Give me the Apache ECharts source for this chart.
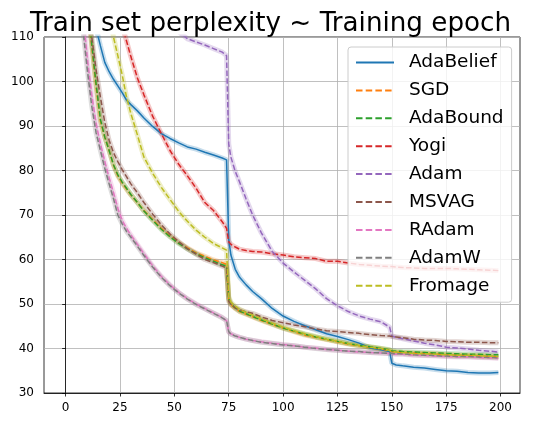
<!DOCTYPE html>
<html><head><meta charset="utf-8">
<script src="https://cdn.jsdelivr.net/npm/echarts@6/dist/echarts.min.js"></script>
<style>html,body{margin:0;padding:0;background:#fff}#c{width:541px;height:425px}</style>
</head><body><div id="c"></div>
<script>
const epochs = [0,5,8,10,12,14,16,18,20,22,24,26,28,30,33,36,40,44,48,52,56,60,64,68,72,74,75,76,78,80,83,86,90,95,100,105,110,115,120,125,130,135,140,145,149,150,152,155,160,165,170,175,180,185,190,195,199];

const adaBelief = [160,140,130,123,117,112,108,104.3,102.2,100.5,99,97.5,95.8,94.8,93.4,91.8,89.9,88.3,87.2,86.2,85.3,84.8,84.1,83.5,82.8,82.4,64.5,61,57.8,56,54.3,52.8,51.2,49,47.3,46.1,45.1,44.2,43.3,42.7,42,41.2,40.1,39.7,39.3,36.7,36.3,36.1,35.8,35.6,35.3,35.0,34.9,34.6,34.5,34.5,34.6];
const sgd = [180,145,128,117,108,98.7,91,87.5,84.5,81.2,78.8,77.2,75.8,74.5,72.8,71,69,67,65.3,63.8,62.6,61.5,60.7,59.9,59.3,58.9,51,49.8,49,48.3,47.7,47.1,46.3,45.4,44.6,43.8,43,42.5,42,41.5,41,40.6,40.3,39.9,39.5,39.3,39.2,39.1,39,38.9,38.8,38.6,38.5,38.4,38.3,38.2,38.1];
const adaBound = [180,146,129,118,108.5,99.5,91.5,87.5,84.5,81.3,79,77.4,76,74.6,72.8,70.9,68.8,66.8,65.1,63.6,62.4,61.3,60.4,59.6,58.8,58.5,51.2,50,49.1,48.4,47.8,47.2,46.4,45.5,44.6,43.9,43.2,42.6,42.1,41.6,41.1,40.7,40.4,40.0,39.7,39.5,39.4,39.3,39.2,39.1,39,38.9,38.8,38.7,38.7,38.6,38.6];
const yogi = [170,158,150,145,140,136,132,128,124,120,116,112.5,109.1,105.6,100.8,97,92.2,88.3,84.5,81.4,78.8,76,72.8,71,68.5,67,64,63.4,62.8,62.3,62,61.8,61.7,61.3,61,60.6,60.4,60.2,59.6,59.6,59.2,58.9,58.7,58.5,58.4,58.4,58.3,58.2,58.1,58,58,58,57.9,57.8,57.7,57.6,57.5];
const adam = [200,190,180,175,170,165,160,156,152,148,145,142,139,136,132,128,124,120,116,111.2,109.6,108.9,108.2,107.4,106.6,105.8,86,83,79.8,77.4,73.6,70,66,61.8,59.2,57.2,55.3,53.4,51.2,49.6,48.3,47.3,46.6,46,44.8,42.8,42.5,42.2,41.7,41.2,40.8,40.3,40.1,39.9,39.6,39.4,39.2];
const msvag = [170,140,126,118,110,102.6,96.5,90.8,86.8,84,82,80.2,78.6,77,75,72.8,70.2,67.8,65.7,64,62.4,61.2,60,59.3,58.5,58.1,50.6,50,49.2,48.7,48.2,47.9,47.1,46.3,45.8,45.3,44.9,44.4,44,43.8,43.6,43.4,43.1,42.9,42.8,42.7,42.6,42.4,42.1,41.9,41.8,41.6,41.5,41.4,41.4,41.3,41.3];
const radam = [165,130,115,105,97,90.5,86,82,78.3,75,71.5,68.8,67,65.5,63.4,61.3,58.6,56.2,54.3,52.6,51.2,50,49,48,47,46.2,43.7,43.3,42.9,42.5,42.1,41.8,41.5,41.2,40.9,40.6,40.3,40.1,39.8,39.6,39.4,39.2,39.1,39,38.9,38.8,38.7,38.7,38.5,38.4,38.3,38.2,38.1,38.1,38,37.9,37.8];
const adamW = [160,125,111.5,102.5,94.5,88.5,84.5,80.5,77,73.7,70,68,66.3,65,63,60.9,58.3,56,54.1,52.5,51.1,49.9,48.9,47.9,46.9,46.3,43.8,43.2,42.8,42.5,42.1,41.8,41.4,41.1,40.8,40.6,40.3,40,39.8,39.6,39.4,39.3,39.1,39,38.9,38.9,38.8,38.8,38.6,38.5,38.4,38.3,38.2,38.2,38.1,38,37.9];
const fromage = [180,162,152,145,138,132,126,120,115,110,105.8,101.5,96.5,92.8,88,83,79.4,76.2,73.5,70.8,68.6,66.6,65,63.6,62.6,62.1,51.6,50.4,49.5,48.8,48.1,47.5,46.7,45.7,44.8,44,43.3,42.7,42.1,41.6,41.1,40.7,40.3,40,39.6,39.4,39.2,39.1,38.9,38.8,38.7,38.6,38.5,38.5,38.4,38.3,38.2];

const seriesNames = ['AdaBelief','SGD','AdaBound','Yogi','Adam','MSVAG','RAdam','AdamW','Fromage'];
const seriesValues = [adaBelief, sgd, adaBound, yogi, adam, msvag, radam, adamW, fromage];
const seriesColors = ['#1f77b4','#ff7f0e','#2ca02c','#d62728','#9467bd','#8c564b','#e377c2','#7f7f7f','#bcbd22'];
const xTicks = [0,25,50,75,100,125,150,175,200];
const titleText = 'Train set perplexity ~ Training epoch';

const font = 'DejaVu Sans';
const chart = echarts.init(document.getElementById('c'), null, {renderer: 'canvas'});

function pairs(vals) { return epochs.map((e, i) => [e, vals[i]]); }
const dash = [5.5, 2.4];

const halos = seriesNames.map((n, i) => ({
  name: n + ' band', type: 'line', data: pairs(seriesValues[i]),
  showSymbol: false, symbol: 'none', silent: true, z: 1,
  lineStyle: {color: seriesColors[i], width: 5, opacity: 0.25},
  itemStyle: {color: seriesColors[i]}
}));
const lines = seriesNames.map((n, i) => ({
  name: n, type: 'line', data: pairs(seriesValues[i]),
  showSymbol: false, symbol: 'none', z: 2,
  lineStyle: {color: seriesColors[i], width: 1.5, type: i === 0 ? 'solid' : dash},
  itemStyle: {color: seriesColors[i]}
}));

chart.setOption({
  animation: false,
  backgroundColor: '#fff',
  title: {
    text: titleText, left: 'center', top: 6,
    textStyle: {fontFamily: font, fontSize: 26.2, fontWeight: 'normal', color: '#000'}
  },
  grid: {left: 44, right: 21, top: 37, bottom: 32, show: true, borderColor: '#000', borderWidth: 0.8},
  xAxis: {
    type: 'value', min: -9.95, max: 208.95,
    axisLine: {lineStyle: {color: '#000', width: 0.8}},
    axisTick: {show: true, length: 3.5, inside: false, lineStyle: {color: '#000', width: 0.8}, customValues: xTicks},
    axisLabel: {fontFamily: font, fontSize: 12, color: '#000', margin: 9, customValues: xTicks},
    splitLine: {show: true, lineStyle: {color: '#b0b0b0', width: 0.8}}
  },
  yAxis: {
    type: 'value', min: 30, max: 110, interval: 10,
    axisLine: {show: true, lineStyle: {color: '#000', width: 0.8}},
    axisTick: {show: true, length: 3.5, lineStyle: {color: '#000', width: 0.8}},
    axisLabel: {fontFamily: font, fontSize: 12, color: '#000', margin: 10},
    splitLine: {show: true, lineStyle: {color: '#b0b0b0', width: 0.8}}
  },
  legend: {
    data: seriesNames.map((n, i) => ({
      name: n,
      lineStyle: {color: seriesColors[i], width: 2, type: i === 0 ? 'solid' : [6.5, 3.2]}
    })),
    orient: 'vertical', left: 348, top: 47,
    padding: [6, 8, 7, 7],
    itemWidth: 38, itemHeight: 12, itemGap: 8.9,
    itemStyle: {opacity: 0},
    backgroundColor: 'rgba(255,255,255,0.8)', borderColor: '#cccccc', borderWidth: 1, borderRadius: 3,
    textStyle: {fontFamily: font, fontSize: 18.5, lineHeight: 18.5, color: '#000', padding: [0, 0, 0, 10]}
  },
  series: halos.concat(lines)
});
</script>
</body></html>
